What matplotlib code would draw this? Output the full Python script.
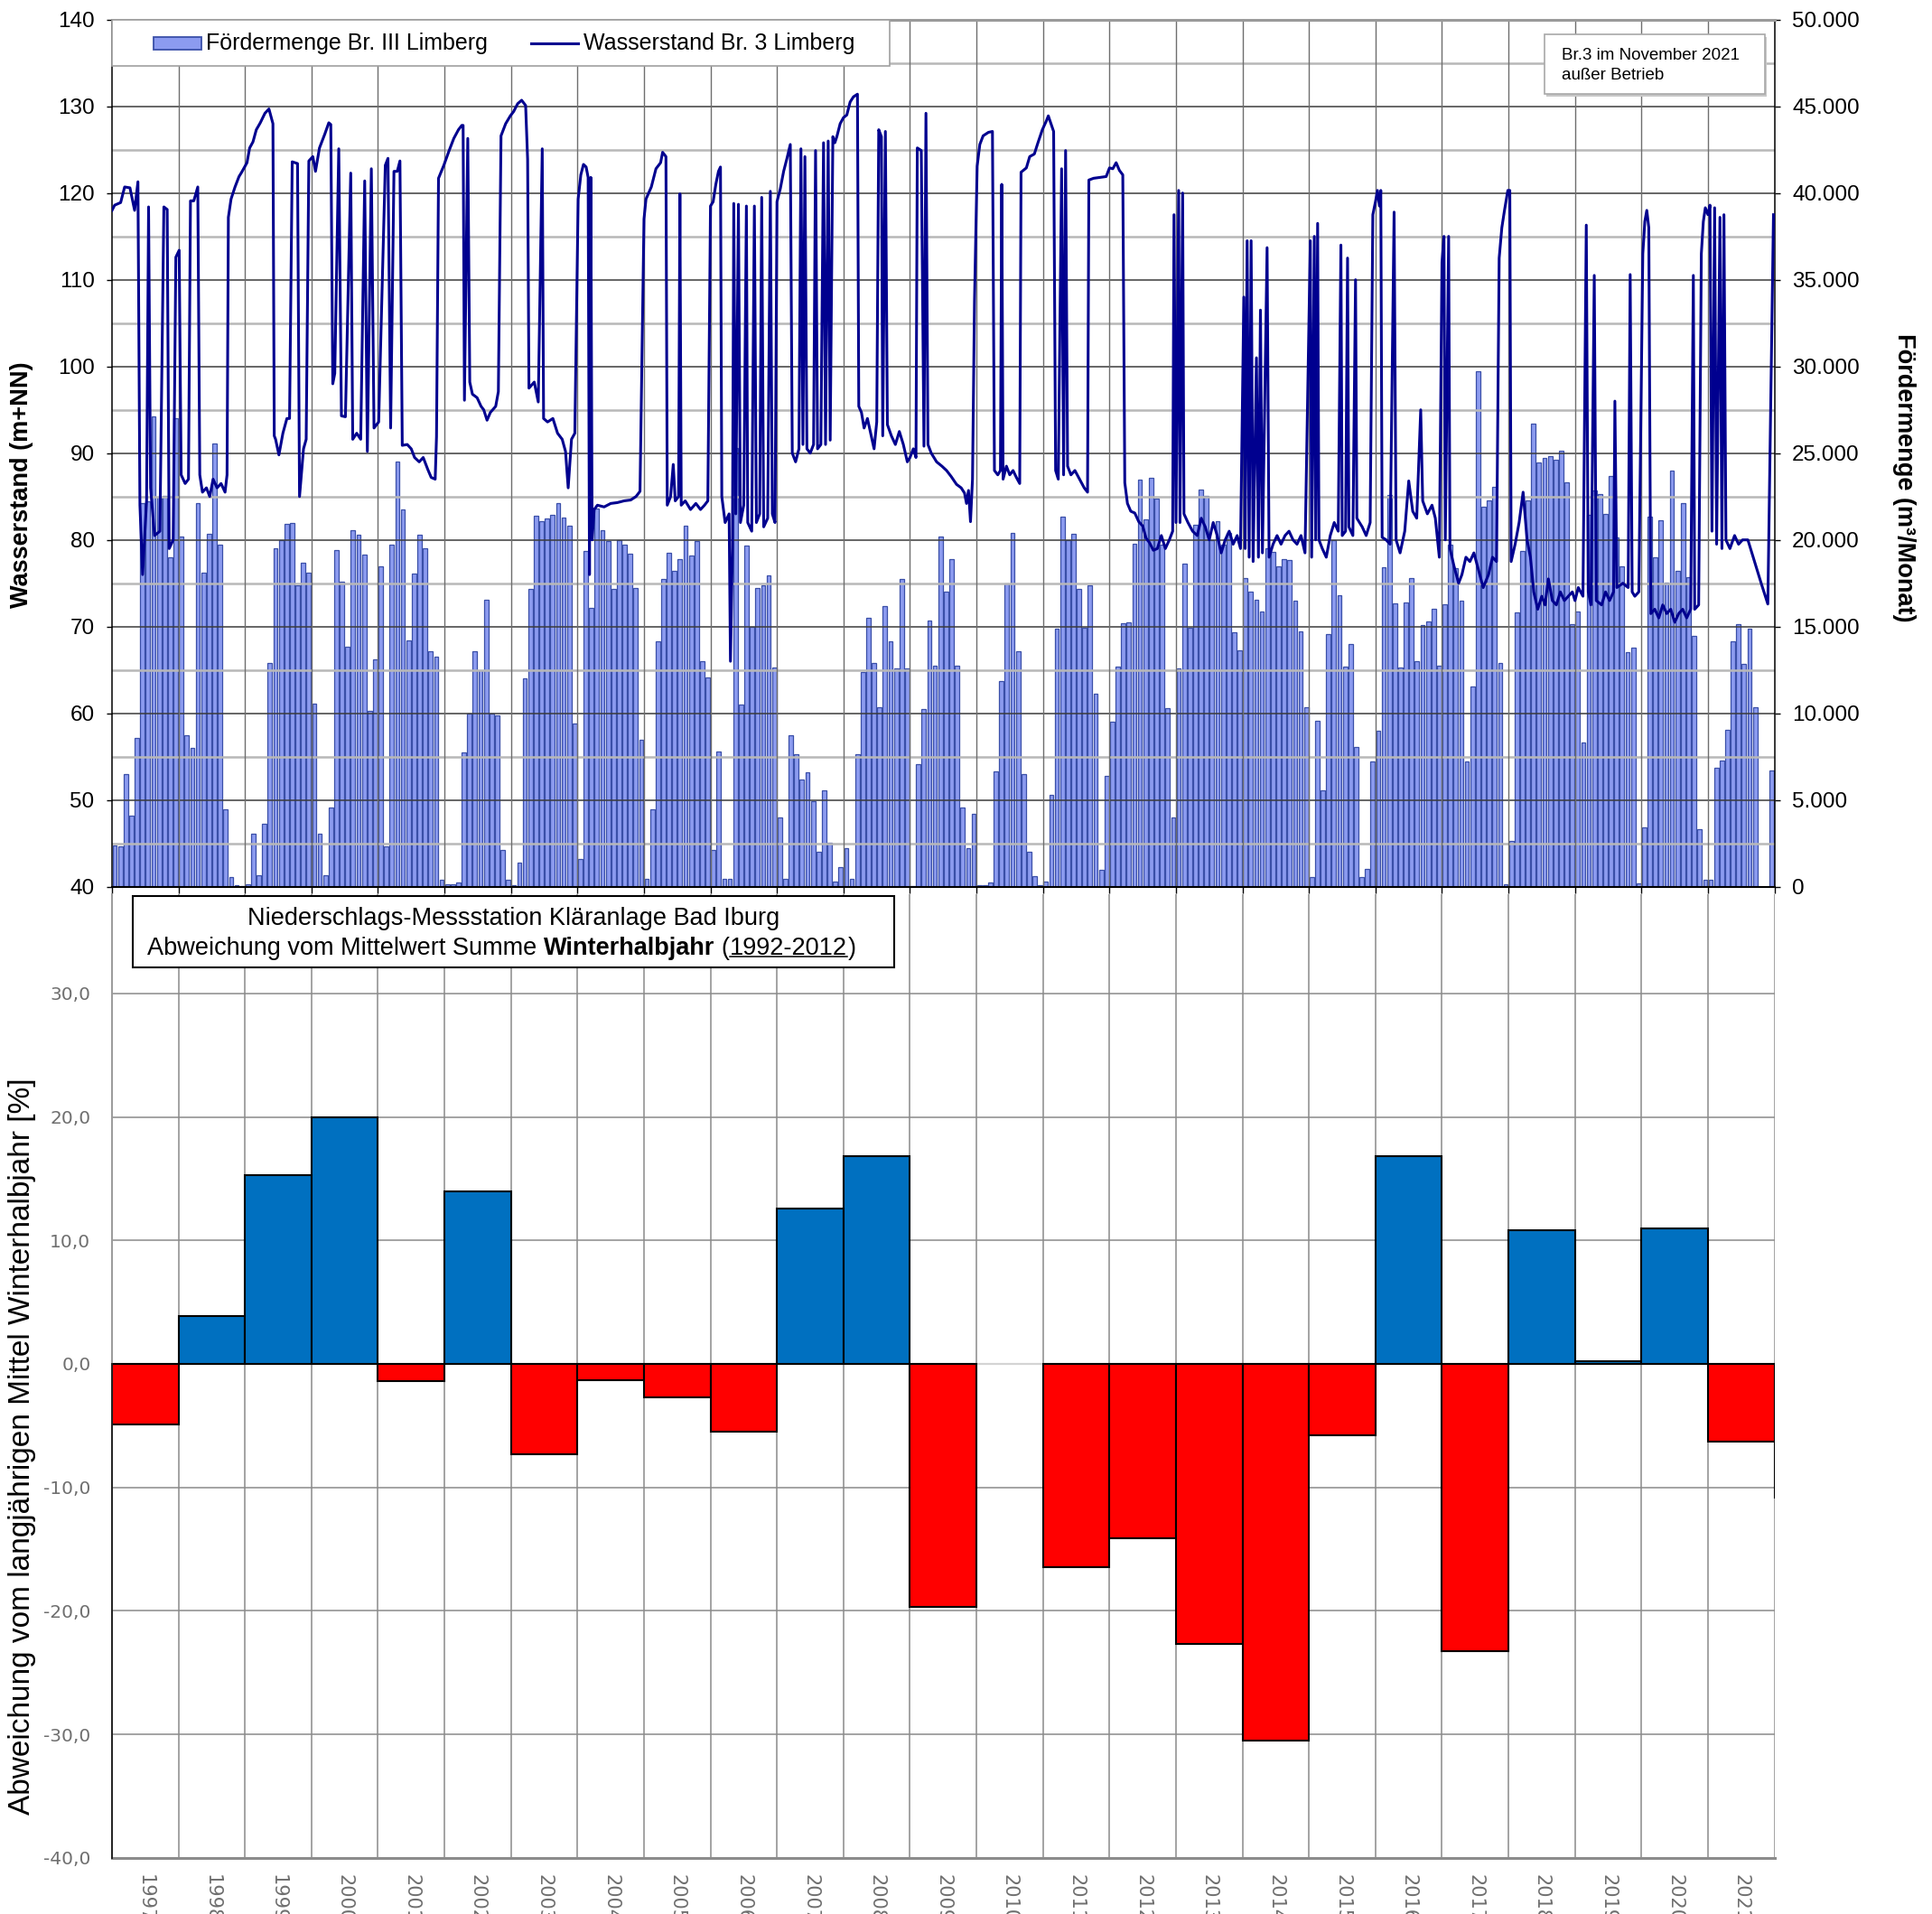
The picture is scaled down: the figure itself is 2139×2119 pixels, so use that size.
import matplotlib
matplotlib.use("Agg")
import matplotlib.pyplot as plt
from matplotlib.patches import Rectangle
from matplotlib.lines import Line2D
from matplotlib.text import Annotation
from matplotlib.ticker import FuncFormatter
import numpy as np

plt.rcParams['font.family'] = ['Liberation Sans', 'DejaVu Sans']

# ---------------- data ----------------
# monthly Fördermenge Br. III Limberg (m3/Monat), Jan 1997 .. Dec 2021
foerdermenge = [
    2400, 2350, 6500, 4100, 8600, 22100, 22200, 27100, 22500, 22550, 19000, 27000,   # 1997
    20200, 8750, 8000, 22100, 18100, 20350, 25550, 19750, 4450, 550, 100, 50,        # 1998
    150, 3050, 650, 3650, 12900, 19500, 20000, 20900, 21000, 17400, 18700, 18100,    # 1999
    10550, 3050, 650, 4550, 19400, 17600, 13850, 20550, 20300, 19150, 10150, 13100,  # 2000
    18500, 2350, 19750, 24500, 21750, 14200, 18050, 20300, 19500, 13600, 13250, 400, # 2001
    150, 150, 250, 7750, 10000, 13600, 12500, 16550, 10000, 9900, 2100, 400,         # 2002
    100, 1400, 12000, 17150, 21400, 21100, 21250, 21450, 22100, 21300, 20800, 9400,  # 2003
    1600, 19350, 16100, 21800, 20550, 19950, 17150, 20000, 19750, 19200, 17250, 8450,# 2004
    450, 4450, 14150, 17750, 19250, 18200, 18900, 20800, 19100, 19950, 13000, 12050, # 2005
    2100, 7800, 450, 450, 25300, 10500, 19650, 15000, 17250, 17400, 17950, 12650,    # 2006
    4000, 450, 8750, 7650, 6200, 6600, 4950, 2000, 5550, 2550, 300, 1150,            # 2007
    2200, 450, 7650, 12400, 15500, 12900, 10350, 16200, 14150, 12600, 17750, 12600,  # 2008
    50, 7050, 10250, 15350, 12750, 20200, 17000, 18900, 12750, 4550, 2200, 4200,     # 2009
    100, 100, 250, 6650, 11850, 17500, 20400, 13600, 6500, 2000, 600, 100,           # 2010
    300, 5300, 14900, 21350, 20000, 20350, 17150, 14950, 17400, 11150, 1000, 6400,   # 2011
    9500, 12700, 15200, 15250, 19800, 23500, 21200, 23600, 22400, 19750, 10300, 4000,# 2012
    12600, 18650, 14950, 20850, 22900, 22550, 20000, 21100, 19700, 20400, 14650, 13650, # 2013
    17800, 17000, 16550, 15850, 19500, 19300, 18450, 18900, 18850, 16500, 14750, 10350, # 2014
    550, 9550, 5550, 14550, 20000, 16800, 12700, 14000, 8050, 550, 1050, 7250,       # 2015
    9000, 18400, 22600, 16350, 12650, 16400, 17800, 13000, 15100, 15300, 16050, 12750, # 2016
    16300, 19750, 18350, 16500, 7200, 11550, 29750, 21900, 22300, 23050, 12900, 150, # 2017
    2650, 15800, 19350, 22300, 26700, 24450, 24700, 24850, 24600, 25150, 23300, 15150, # 2018
    15850, 8300, 21450, 22850, 22650, 21500, 23700, 20150, 18500, 13550, 13800, 200, # 2019
    3400, 21350, 19000, 21150, 17550, 24000, 18200, 22100, 17850, 14450, 3300, 400,  # 2020
    400, 6850, 7300, 9050, 14150, 15150, 12850, 14900, 10350, 0, 0, 6700,            # 2021
]

# Wasserstand Br. 3 Limberg (m+NN): time (decimal year) and level
level_time = [
    1997.00, 1997.04, 1997.13, 1997.19, 1997.27, 1997.34, 1997.39, 1997.42, 1997.46, 1997.52,
    1997.55, 1997.58, 1997.64, 1997.72, 1997.78, 1997.83, 1997.86, 1997.92, 1997.96, 1998.01, 1998.04,
    1998.10, 1998.15, 1998.18, 1998.23, 1998.29, 1998.32, 1998.36, 1998.42, 1998.47, 1998.52,
    1998.58, 1998.64, 1998.70, 1998.73, 1998.75, 1998.79, 1998.85, 1998.91, 1998.95,
    1999.03, 1999.07, 1999.12, 1999.17, 1999.23, 1999.30, 1999.36, 1999.42, 1999.44, 1999.46,
    1999.51, 1999.57, 1999.63, 1999.67, 1999.71, 1999.79, 1999.82, 1999.88, 1999.92, 1999.96,
    2000.02, 2000.06, 2000.12, 2000.20, 2000.26, 2000.29, 2000.32, 2000.35, 2000.41, 2000.45,
    2000.51, 2000.59, 2000.62, 2000.68, 2000.74, 2000.80, 2000.84, 2000.90, 2000.94,
    2001.01, 2001.11, 2001.15, 2001.19, 2001.24, 2001.29, 2001.33, 2001.365, 2001.44, 2001.50,
    2001.55, 2001.62, 2001.68, 2001.75, 2001.80, 2001.86, 2001.88, 2001.91, 2001.99,
    2002.07, 2002.14, 2002.21, 2002.26, 2002.28, 2002.30, 2002.35, 2002.38, 2002.42, 2002.49,
    2002.55, 2002.59, 2002.64, 2002.69, 2002.77, 2002.81, 2002.85, 2002.92, 2002.99,
    2003.04, 2003.10, 2003.16, 2003.22, 2003.25, 2003.27, 2003.35, 2003.41, 2003.47, 2003.49,
    2003.55, 2003.63, 2003.70, 2003.77, 2003.82, 2003.86, 2003.91, 2003.96,
    2004.01, 2004.05, 2004.09, 2004.13, 2004.16, 2004.18, 2004.20, 2004.22, 2004.25, 2004.30,
    2004.40, 2004.50, 2004.60, 2004.70, 2004.80, 2004.88, 2004.94,
    2005.00, 2005.03, 2005.11, 2005.18, 2005.25, 2005.28, 2005.33, 2005.35, 2005.40, 2005.44,
    2005.47, 2005.52, 2005.54, 2005.56, 2005.62, 2005.70, 2005.78, 2005.85, 2005.91, 2005.96,
    2006.00, 2006.04, 2006.08, 2006.12, 2006.15, 2006.17, 2006.22, 2006.28, 2006.30, 2006.33,
    2006.35, 2006.38, 2006.42, 2006.45, 2006.50, 2006.54, 2006.56, 2006.62, 2006.66, 2006.69,
    2006.74, 2006.77, 2006.80, 2006.86, 2006.90, 2006.93, 2006.97,
    2007.00, 2007.05, 2007.10, 2007.15, 2007.20, 2007.23, 2007.28, 2007.33, 2007.36, 2007.39,
    2007.42, 2007.45, 2007.50, 2007.55, 2007.58, 2007.61, 2007.66, 2007.70, 2007.73, 2007.77,
    2007.80, 2007.84, 2007.87, 2007.90, 2007.95,
    2008.00, 2008.05, 2008.10, 2008.15, 2008.21, 2008.23, 2008.27, 2008.31, 2008.36, 2008.42,
    2008.46, 2008.50, 2008.53, 2008.57, 2008.59, 2008.63, 2008.66, 2008.72, 2008.78, 2008.84,
    2008.90, 2008.96,
    2009.00, 2009.05, 2009.09, 2009.11, 2009.17, 2009.21, 2009.24, 2009.27, 2009.32, 2009.40,
    2009.48, 2009.55, 2009.62, 2009.70, 2009.77, 2009.82, 2009.85, 2009.88, 2009.91, 2009.94,
    2009.97, 2010.01, 2010.05, 2010.10, 2010.18, 2010.24, 2010.27, 2010.32, 2010.36, 2010.38,
    2010.40, 2010.45, 2010.50, 2010.55, 2010.60, 2010.65, 2010.67, 2010.75, 2010.80, 2010.87,
    2010.92, 2010.99,
    2011.05, 2011.08, 2011.12, 2011.16, 2011.19, 2011.23, 2011.28, 2011.31, 2011.34, 2011.37,
    2011.42, 2011.48, 2011.55, 2011.62, 2011.67, 2011.69, 2011.76, 2011.85, 2011.95,
    2012.00, 2012.05, 2012.10, 2012.15, 2012.20, 2012.23, 2012.27, 2012.32, 2012.38, 2012.44,
    2012.50, 2012.55, 2012.60, 2012.66, 2012.72, 2012.78, 2012.84, 2012.90, 2012.95, 2012.97,
    2013.00, 2013.04, 2013.06, 2013.10, 2013.12, 2013.18, 2013.25, 2013.32, 2013.38, 2013.44,
    2013.50, 2013.56, 2013.62, 2013.68, 2013.74, 2013.80, 2013.86, 2013.92, 2013.97,
    2014.02, 2014.04, 2014.07, 2014.10, 2014.13, 2014.16, 2014.21, 2014.24, 2014.27, 2014.30,
    2014.37, 2014.40, 2014.46, 2014.52, 2014.58, 2014.64, 2014.70, 2014.76, 2014.82, 2014.88,
    2014.94,
    2015.02, 2015.04, 2015.08, 2015.10, 2015.13, 2015.15, 2015.20, 2015.26, 2015.32, 2015.38,
    2015.44, 2015.48, 2015.50, 2015.55, 2015.58, 2015.60, 2015.66, 2015.70, 2015.72, 2015.80,
    2015.86, 2015.92, 2015.96,
    2016.00, 2016.03, 2016.06, 2016.08, 2016.10, 2016.16, 2016.22, 2016.28, 2016.31, 2016.37,
    2016.44, 2016.50, 2016.56, 2016.62, 2016.68, 2016.71, 2016.78, 2016.85, 2016.90, 2016.96,
    2017.00, 2017.03, 2017.05, 2017.10, 2017.12, 2017.18, 2017.25, 2017.30, 2017.36, 2017.42,
    2017.48, 2017.55, 2017.62, 2017.70, 2017.76, 2017.82, 2017.86, 2017.90, 2017.94, 2017.99,
    2018.02, 2018.04, 2018.10, 2018.16, 2018.22, 2018.28, 2018.33, 2018.38, 2018.44, 2018.50,
    2018.55, 2018.60, 2018.66, 2018.72, 2018.78, 2018.84, 2018.90, 2018.96,
    2019.00, 2019.05, 2019.12, 2019.17, 2019.20, 2019.24, 2019.29, 2019.32, 2019.40, 2019.46,
    2019.52, 2019.58, 2019.60, 2019.63, 2019.72, 2019.80, 2019.83, 2019.86, 2019.90, 2019.96,
    2020.02, 2020.05, 2020.08, 2020.11, 2020.14, 2020.20, 2020.26, 2020.32, 2020.38, 2020.44,
    2020.50, 2020.56, 2020.62, 2020.68, 2020.74, 2020.78, 2020.80, 2020.86, 2020.90, 2020.93,
    2020.96,
    2021.00, 2021.03, 2021.06, 2021.10, 2021.13, 2021.18, 2021.21, 2021.24, 2021.27, 2021.33,
    2021.40, 2021.46, 2021.52, 2021.60, 2021.70, 2021.80, 2021.90, 2021.985,
]
level_value = [
    118.0, 118.6, 118.9, 120.7, 120.6, 118.0, 121.3, 84.0, 76.0, 84.5,
    118.4, 86.0, 80.5, 81.0, 118.4, 118.1, 79.0, 80.0, 112.6, 113.4, 87.5,
    86.5, 87.0, 119.1, 119.1, 120.7, 87.5, 85.5, 86.0, 85.0, 87.0,
    86.0, 86.5, 85.5, 87.5, 117.2, 119.3, 120.7, 121.9, 122.4,
    123.5, 125.2, 125.9, 127.3, 128.1, 129.2, 129.7, 128.0, 92.0, 91.6,
    89.8, 92.3, 94.0, 94.0, 123.6, 123.4, 85.0, 90.5, 91.6, 123.7,
    124.2, 122.5, 125.2, 126.8, 128.1, 127.9, 98.0, 99.2, 125.1, 94.3,
    94.2, 122.3, 91.6, 92.3, 91.6, 121.4, 90.2, 122.8, 92.9,
    93.6, 123.2, 124.0, 92.9, 122.5, 122.5, 123.7, 90.9, 91.0, 90.5,
    89.5, 89.0, 89.5, 88.1, 87.2, 87.0, 91.9, 121.7, 123.2,
    124.9, 126.3, 127.3, 127.8, 127.8, 96.1, 126.3, 98.2, 96.8, 96.4,
    95.4, 95.0, 93.8, 94.7, 95.4, 97.1, 126.6, 128.0, 128.9,
    129.4, 130.3, 130.7, 130.1, 123.9, 97.5, 98.2, 95.9, 125.1, 94.0,
    93.6, 94.0, 92.3, 91.6, 90.2, 86.0, 91.6, 92.3,
    119.3, 122.1, 123.3, 123.0, 121.8, 76.0, 121.8, 80.0, 83.5, 84.0,
    83.8, 84.2, 84.3, 84.5, 84.6, 85.0, 85.6,
    117.0, 119.3, 120.7, 122.8, 123.5, 124.7, 124.2, 84.0, 85.0, 88.7,
    84.5, 85.0, 119.9, 84.0, 84.5, 83.5, 84.2, 83.5, 84.0, 84.5,
    118.5, 119.0, 121.0, 122.5, 123.0, 85.0, 82.0, 83.0, 66.0, 79.0,
    118.8, 83.0, 118.7, 82.0, 84.0, 118.5, 82.0, 81.0, 118.5, 82.0,
    83.0, 119.5, 81.5, 82.5, 120.2, 83.0, 82.0,
    119.0, 120.5, 122.5, 124.0, 125.6, 90.0, 89.0, 90.5, 125.1, 91.0,
    124.2, 90.5, 90.0, 91.0, 124.9, 90.5, 91.0, 125.8, 91.0, 126.0,
    91.5, 126.5, 125.8, 126.5, 128.0,
    128.7, 129.0, 130.5, 131.1, 131.4, 95.4, 94.7, 92.9, 94.0, 91.9,
    90.5, 93.6, 127.3, 126.5, 92.0, 127.1, 93.3, 92.0, 91.0, 92.5,
    91.0, 89.0,
    89.5, 90.5, 89.5, 125.2, 124.9, 90.8, 129.2, 91.0, 90.0, 89.0,
    88.5, 88.0, 87.3, 86.4, 86.0, 85.4, 84.2, 85.7, 82.1, 87.0,
    107.5, 123.1, 125.6, 126.6, 127.0, 127.1, 88.0, 87.5, 88.0, 121.0,
    87.0, 88.5, 87.5, 88.0, 87.2, 86.5, 122.4, 122.9, 124.2, 124.5,
    125.7, 127.3,
    128.3, 128.9, 128.0, 127.1, 88.0, 87.0, 122.8, 87.5, 124.9, 88.5,
    87.5, 88.0, 87.0, 86.0, 85.5, 121.5, 121.7, 121.8, 121.9,
    122.9, 122.8, 123.5, 122.6, 122.1, 86.6, 84.2, 83.3, 83.1, 82.1,
    81.6, 80.2, 79.7, 78.8, 79.0, 80.5, 79.0, 80.0, 81.0, 117.5,
    82.0, 120.3, 82.0, 120.0, 83.0, 82.0, 81.0, 80.5, 82.5, 81.5,
    80.0, 82.0, 80.5, 78.5, 80.0, 81.0, 79.5, 80.5, 79.0,
    108.0, 79.0, 114.5, 78.0, 114.5, 77.5, 101.0, 78.0, 106.5, 78.5,
    113.7, 78.0, 79.5, 80.5, 79.5, 80.5, 81.0, 80.0, 79.5, 80.5,
    78.5,
    114.5, 78.0, 115.0, 80.0, 116.5, 80.0, 79.0, 78.0, 80.5, 82.0,
    81.0, 114.0, 80.5, 81.0, 112.5, 81.5, 80.5, 110.0, 82.5, 81.5,
    80.5, 82.0, 117.5,
    119.0, 120.3, 118.5, 120.3, 80.3, 80.0, 79.5, 117.8, 80.0, 78.5,
    81.0, 86.8, 83.3, 82.5, 95.0, 84.5, 83.0, 84.0, 82.5, 78.0,
    112.0, 115.0, 80.0, 115.0, 79.0, 77.0, 75.0, 76.0, 78.0, 77.5,
    78.5, 76.5, 74.5, 76.0, 78.0, 77.5, 112.5, 116.0, 118.0, 120.3,
    120.3, 77.5, 79.5, 82.0, 85.5, 80.0, 78.0, 74.0, 72.0, 73.5,
    72.5, 75.5, 73.0, 72.5, 74.0, 73.0, 73.5, 74.0,
    73.0, 74.5, 73.5, 116.3, 74.0, 72.5, 110.5, 73.0, 72.5, 74.0,
    73.0, 74.0, 96.0, 74.5, 75.0, 74.5, 110.6, 74.0, 73.5, 74.0,
    113.0, 116.7, 118.0, 116.0, 71.5, 72.0, 71.0, 72.5, 71.5, 72.0,
    70.5, 71.5, 72.0, 71.0, 72.0, 110.5, 72.0, 72.5, 113.0, 116.7,
    118.3,
    117.5, 118.6, 81.0, 118.3, 79.5, 117.2, 79.0, 117.5, 80.0, 79.0,
    80.5, 79.5, 80.0, 80.0, 77.5, 75.0, 72.6, 117.5,
]

# Winter half-year precipitation deviation (%) per year
years = list(range(1997, 2023))
deviation = [-4.9, 3.9, 15.3, 20.0, -1.4, 14.0, -7.3, -1.3, -2.7, -5.5,
             12.6, 16.8, -19.7, 0.0, -16.5, -14.1, -22.7, -30.5, -5.8, 16.8,
             -23.3, 10.8, 0.2, 11.0, -6.3, -10.8]

# ---------------- figure ----------------
W, H = 2139, 2119
def fx(x): return x / W
def fy(y): return 1 - y / H

fig = plt.figure(figsize=(W / 100, H / 100), dpi=100)
fig.patch.set_facecolor('white')

BAR_FACE = '#8C9BF0'
BAR_EDGE = '#3A4FA8'
LINE_COL = '#00008F'

# ---- top panel ----
ax_bar = fig.add_axes([fx(124), fy(981.7), fx(1964.6) - fx(124), fy(21.7) - fy(981.7)])
ax_lvl = ax_bar.twinx()

ax_bar.set_xlim(1997, 2022)
ax_bar.set_ylim(0, 50000)
month_x = 1997 + (np.arange(len(foerdermenge)) + 0.5) / 12.0
ax_bar.bar(month_x, foerdermenge, width=0.78 / 12, color=BAR_FACE, edgecolor=BAR_EDGE,
           linewidth=0.9, zorder=1)
for v in range(2500, 50000, 2500):
    if v % 5000 == 0:
        ax_bar.axhline(v, color='#3c3c3c', lw=1.1, zorder=2)
    else:
        ax_bar.axhline(v, color='#b8b8b8', lw=1.8, zorder=2)
for yr in range(1998, 2022):
    ax_bar.axvline(yr, color='#6e6e6e', lw=1.0, zorder=2)

ax_bar.yaxis.set_ticks_position('right')
ax_bar.yaxis.set_label_position('right')
ax_bar.set_yticks(range(0, 50001, 5000))
ax_bar.yaxis.set_major_formatter(FuncFormatter(lambda v, p: '0' if v == 0 else f"{int(v):,}".replace(',', '.')))
ax_bar.tick_params(axis='y', which='both', left=False, labelleft=False, right=True, labelright=True,
                   length=4, width=1, labelsize=17.5, pad=10)
ax_bar.set_xticks(range(1997, 2023))
ax_bar.set_xticklabels([])
ax_bar.tick_params(axis='x', length=5, width=1, direction='out')
for s in ('left', 'right'):
    ax_bar.spines[s].set_color('black'); ax_bar.spines[s].set_linewidth(1.1)
ax_bar.spines['bottom'].set_color('black'); ax_bar.spines['bottom'].set_linewidth(1.5)
ax_bar.spines['top'].set_color('#9a9a9a'); ax_bar.spines['top'].set_linewidth(2.2)

ax_lvl.set_ylim(40, 140)
ax_lvl.plot(level_time, level_value, color=LINE_COL, lw=2.2, solid_joinstyle='round', zorder=3)
ax_lvl.yaxis.set_ticks_position('left')
ax_lvl.yaxis.set_label_position('left')
ax_lvl.set_yticks(range(40, 141, 10))
ax_lvl.tick_params(axis='y', which='both', left=True, labelleft=True, right=False, labelright=False,
                   length=4, width=1, labelsize=17.5, pad=10)
for s in ax_lvl.spines.values():
    s.set_visible(False)

# legend box
fig.add_artist(Rectangle((fx(124), fy(72.7)), fx(985) - fx(124), fy(21.7) - fy(72.7),
                         transform=fig.transFigure, facecolor='white', edgecolor='#a0a0a0', lw=1.2))
fig.add_artist(Rectangle((fx(170), fy(55)), fx(223) - fx(170), fy(40.7) - fy(55),
                         transform=fig.transFigure, facecolor=BAR_FACE, edgecolor=BAR_EDGE, lw=1.3))
fig.text(fx(228), fy(48.3), 'Fördermenge Br. III Limberg', fontsize=18, ha='left', va='center')
fig.add_artist(Line2D([fx(588), fx(640)], [fy(48.3), fy(48.3)], transform=fig.transFigure,
                      color=LINE_COL, lw=2.2))
fig.text(fx(645.6), fy(48.3), 'Wasserstand Br. 3 Limberg', fontsize=18, ha='left', va='center')

# note box
fig.add_artist(Rectangle((fx(1712.5), fy(107)), fx(1956.5) - fx(1712.5), fy(41) - fy(107),
                         transform=fig.transFigure, facecolor='#c8c8c8', edgecolor='none'))
fig.add_artist(Rectangle((fx(1709.7), fy(104)), fx(1953.7) - fx(1709.7), fy(38.3) - fy(104),
                         transform=fig.transFigure, facecolor='white', edgecolor='#a8a8a8', lw=1.2))
fig.text(fx(1728.6), fy(61), 'Br.3 im November 2021', fontsize=13.5, ha='left', va='center')
fig.text(fx(1728.6), fy(83), 'außer Betrieb', fontsize=13.5, ha='left', va='center')

fig.text(fx(24), fy(537), 'Wasserstand (m+NN)', rotation=90, fontsize=19.5, weight='bold',
         ha='center', va='center')
fig.text(fx(2108), fy(529), 'Fördermenge (m³/Monat)', rotation=270, fontsize=19.5, weight='bold',
         ha='center', va='center')

# ---- bottom panel ----
ax2 = fig.add_axes([fx(124), fy(2056.7), fx(1964.6) - fx(124), fy(990) - fy(2056.7)])
ax2.set_xlim(1997, 2022)
ax2.set_ylim(-40, 38.04)
GRID = '#8a8a8a'
for v in range(-30, 31, 10):
    if v != 0:
        ax2.axhline(v, color=GRID, lw=1.1, zorder=1)
for yr in range(1998, 2023):
    ax2.axvline(yr, color=GRID, lw=1.1, zorder=1)
ax2.axhline(0, color='#d4d4d4', lw=1.6, zorder=1.5)

yrs = np.array(years)
dev = np.array(deviation)
mask = dev != 0
cols = ['#0070C0' if v > 0 else '#FF0000' for v in dev[mask]]
ax2.bar(yrs[mask] + 0.5, dev[mask], width=1.0, color=cols, edgecolor='black', linewidth=1.5, zorder=3)

for s in ('top', 'right', 'left'):
    ax2.spines[s].set_visible(False)
ax2.spines['bottom'].set_color('#8c8c8c'); ax2.spines['bottom'].set_linewidth(2.2)
ax2.plot([1997, 1997], [0, 38.04], color='#9a9a9a', lw=1.4, zorder=4, clip_on=False)
ax2.plot([1997, 1997], [-40, 0], color='#202020', lw=1.4, zorder=4, clip_on=False)

ax2.set_yticks(range(-40, 31, 10))
ax2.yaxis.set_major_formatter(FuncFormatter(lambda v, p: f"{v:.1f}".replace('.', ',')))
ax2.tick_params(axis='y', length=0, pad=17, labelsize=14.5, labelcolor='#6f6f6f',
                labelfontfamily='DejaVu Sans')
ax2.set_xticks(yrs[:-1] + 0.5)
ax2.set_xticklabels([str(y) for y in years[:-1]], rotation=270)
ax2.tick_params(axis='x', length=0, pad=13, labelsize=15, labelcolor='#6f6f6f',
                labelfontfamily='DejaVu Sans')

fig.text(fx(25), fy(1601.6), 'Abweichung vom langjährigen Mittel Winterhalbjahr [%]',
         rotation=90, fontsize=24, ha='center', va='center')

# title box of bottom panel
fig.add_artist(Rectangle((fx(147), fy(1071)), fx(990) - fx(147), fy(991.7) - fy(1071),
                         transform=fig.transFigure, facecolor='white', edgecolor='black', lw=1.5))
fig.text(fx(568.5), fy(1016.7), 'Niederschlags-Messstation Kläranlage Bad Iburg',
         fontsize=19.5, ha='center', va='center', zorder=5)
t1 = fig.text(fx(163), fy(1050), 'Abweichung vom Mittelwert Summe', fontsize=19.5,
              ha='left', va='center', zorder=5)

def chain(txt, prev, dx, **kw):
    a = Annotation(txt, xy=(1, 0.5), xycoords=prev, xytext=(dx, 0), textcoords='offset points',
                   fontsize=19.5, ha='left', va='center', annotation_clip=False, **kw)
    a.set_zorder(5)
    fig.add_artist(a)
    return a

t2 = chain('Winterhalbjahr', t1, 5.4, weight='bold')
t3 = chain('(', t2, 5.4)
t4 = chain('1992-2012', t3, 0.3)
t5 = chain(')', t4, 0.3)

fig.canvas.draw()
bb = t4.get_window_extent()
uy = bb.y0 + 3.8
ul = Line2D([bb.x0 / W, bb.x1 / W], [uy / H, uy / H], transform=fig.transFigure,
            color='black', lw=1.1)
ul.set_zorder(6)
fig.add_artist(ul)

fig.savefig('out.png', dpi=100, facecolor='white')
